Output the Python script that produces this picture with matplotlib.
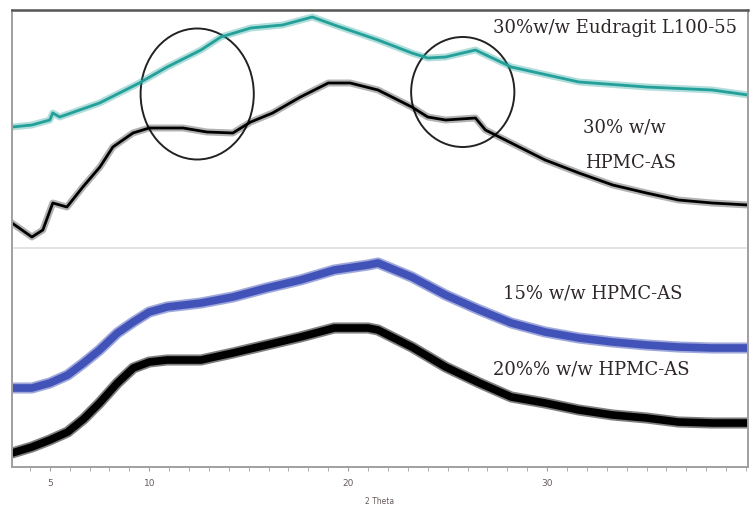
import matplotlib.pyplot as plt
from matplotlib.patches import Ellipse
from matplotlib.ticker import MultipleLocator, FixedLocator

# 2 Theta positions and stacked intensities (arbitrary units, offset traces)
tt_eud = [3.1, 4.1, 5.0, 5.15, 5.5, 7.5, 9.5, 10.9, 12.6, 13.6, 15.1, 16.7, 18.2,
          19.3, 21.5, 23.2, 24.0, 24.9, 26.4, 28.2, 31.6, 35.0, 38.3, 40.1]
i_eud = [340, 342, 347, 354, 350, 364, 384, 400, 417, 430, 439, 442, 450,
         442, 427, 414, 409, 410, 417, 400, 385, 380, 377, 372]

tt_h30 = [3.1, 4.1, 4.65, 5.15, 5.86, 6.66, 7.52, 8.17, 9.18, 10.0, 11.7, 12.9,
          14.2, 15.1, 16.2, 17.6, 19.0, 20.1, 21.5, 23.2, 24.0, 24.9, 26.4, 26.9,
          28.2, 29.9, 31.6, 33.3, 35.0, 36.6, 38.3, 40.1]
i_h30 = [244, 230, 237, 264, 260, 280, 300, 320, 334, 339, 339, 335,
         334, 345, 354, 370, 384, 384, 377, 360, 350, 347, 349, 337,
         324, 307, 294, 282, 274, 267, 264, 262]

tt_low = [3.1, 4.1, 5.0, 5.9, 6.7, 7.5, 8.4, 9.2, 10.0, 10.9, 12.6, 14.2, 15.9,
          17.6, 19.3, 21.0, 21.5, 23.2, 24.9, 26.6, 28.2, 29.9, 31.6, 33.3, 35.0,
          36.6, 38.3, 40.1]
i_h15 = [79, 79, 84, 92, 104, 117, 134, 145, 155, 160, 164, 170, 179,
         187, 197, 202, 204, 190, 172, 157, 144, 135, 129, 125, 122,
         120, 119, 119]
i_h20 = [14, 20, 27, 35, 48, 64, 84, 99, 105, 107, 107, 114, 122,
         130, 139, 139, 137, 120, 100, 84, 70, 64, 57, 52, 49,
         45, 44, 44]

major_ticks = [5, 10, 20, 30]

fig = plt.figure(figsize=(7.56, 5.07), dpi=100)
ax = fig.add_axes([12/756, 1-467/507, 736/756, 457/507])

teal = '#22a099'
blue = '#4152b8'

ax.plot(tt_eud, i_eud, color=teal, lw=5, alpha=0.35, solid_joinstyle='round')
ax.plot(tt_eud, i_eud, color=teal, lw=2.0, solid_joinstyle='round')
ax.plot(tt_h30, i_h30, color='black', lw=5, alpha=0.3, solid_joinstyle='round')
ax.plot(tt_h30, i_h30, color='black', lw=2.0, solid_joinstyle='round')
ax.plot(tt_low, i_h15, color=blue, lw=8, alpha=0.5, solid_joinstyle='round')
ax.plot(tt_low, i_h15, color=blue, lw=5.5, solid_joinstyle='round')
ax.plot(tt_low, i_h20, color='black', lw=8, alpha=0.5, solid_joinstyle='round')
ax.plot(tt_low, i_h20, color='black', lw=5.5, solid_joinstyle='round')

ax.add_patch(Ellipse((12.41, 373), 5.69, 131, fill=False, ec='#222222', lw=1.4))
ax.add_patch(Ellipse((25.76, 375), 5.19, 110, fill=False, ec='#222222', lw=1.4))

ax.axhline(219, color='#dddddd', lw=1.2)

ax.set_xlim(3.1, 40.1)
ax.set_ylim(0, 457)

for s in ['left', 'right', 'bottom']:
    ax.spines[s].set_color('#a0a0a0')
    ax.spines[s].set_linewidth(1.4)
ax.spines['top'].set_color('#555555')
ax.spines['top'].set_linewidth(1.8)

ax.set_yticks([])
ax.xaxis.set_major_locator(FixedLocator(major_ticks))
ax.xaxis.set_minor_locator(MultipleLocator(1))
ax.tick_params(axis='x', which='both', length=3, color='#a0a0a0',
               labelsize=6.5, labelcolor='#6a5a5a', pad=6)
ax.set_xlabel('2 Theta', fontsize=5.5, color='#6a5a5a', labelpad=6)

tfont = dict(family='DejaVu Serif', color='#2e2626', fontsize=13)
ax.text(0.975, 0.944, '30%w/w Eudragit L100-55', transform=fig.transFigure,
        ha='right', va='center', **tfont)
ax.text(583/756, 1-128/507, '30% w/w', transform=fig.transFigure,
        ha='left', va='center', **tfont)
ax.text(585/756, 1-163/507, 'HPMC-AS', transform=fig.transFigure,
        ha='left', va='center', **tfont)
ax.text(503/756, 1-293/507, '15% w/w HPMC-AS', transform=fig.transFigure,
        ha='left', va='center', **tfont)
ax.text(493/756, 1-370/507, '20%% w/w HPMC-AS', transform=fig.transFigure,
        ha='left', va='center', **tfont)

fig.savefig('out.png', dpi=100)
